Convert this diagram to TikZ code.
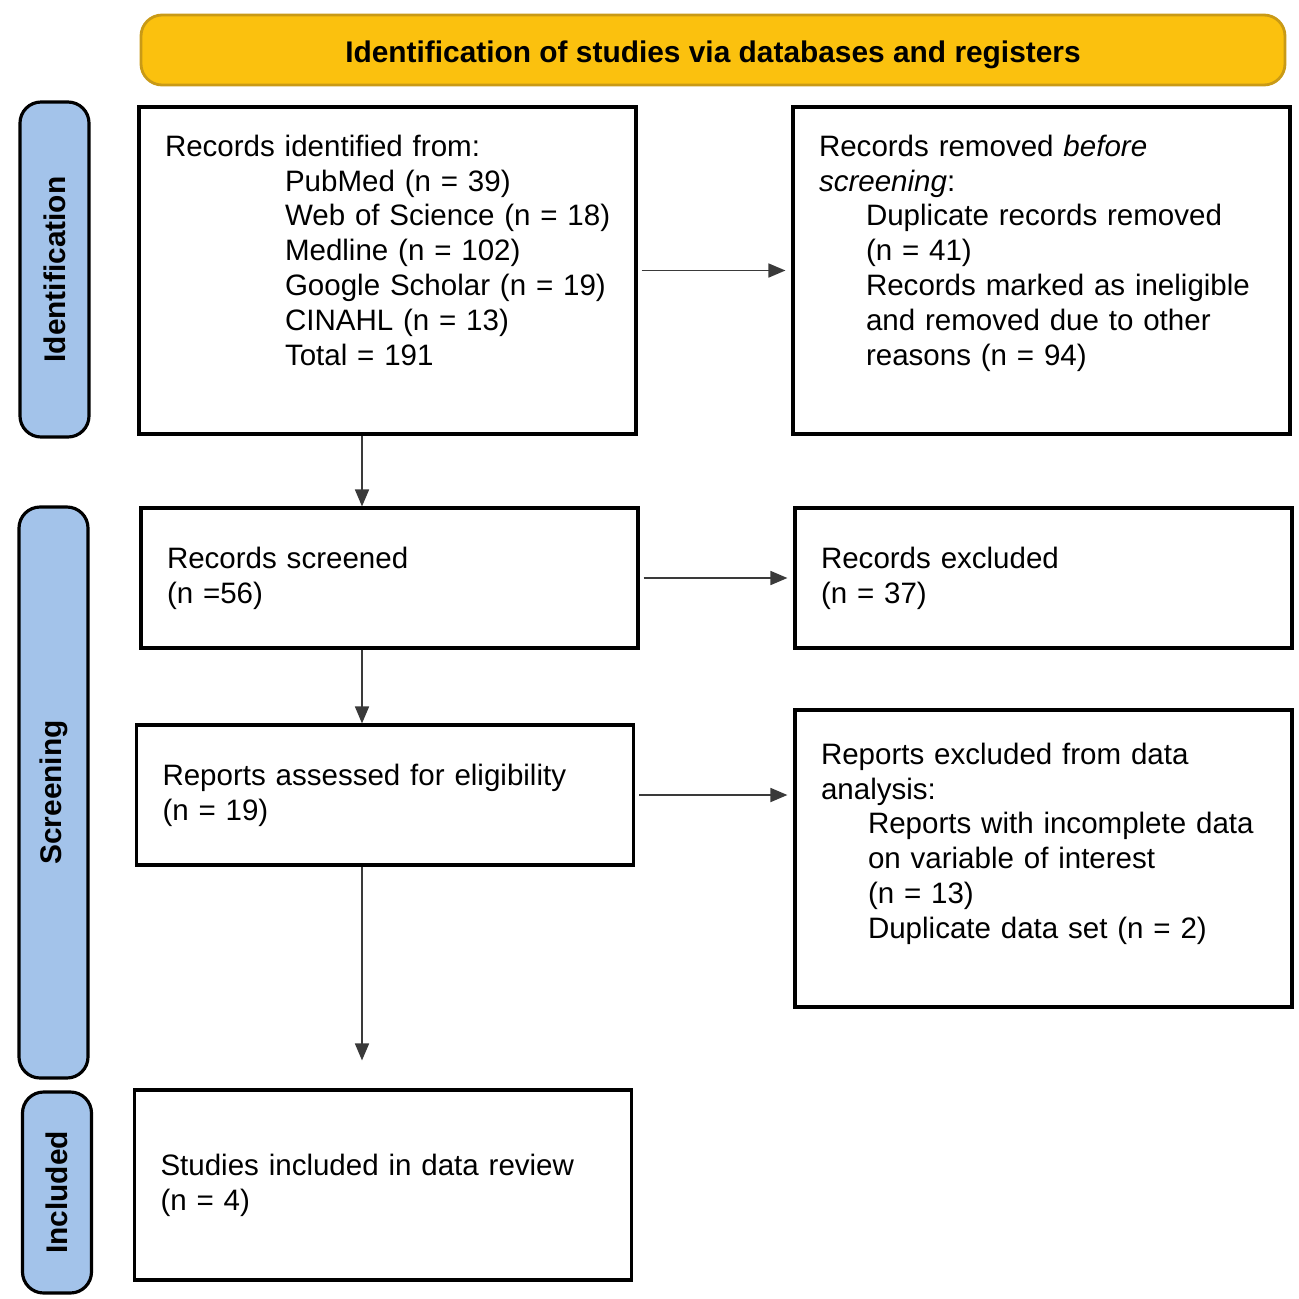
\documentclass[tikz,border=0pt]{standalone}
\usepackage{fontspec}
\setmainfont{Liberation Sans}
\usepackage{xcolor}
\usetikzlibrary{arrows.meta, positioning, calc}
\definecolor{HeadGold}{HTML}{FBC10E}
\definecolor{HeadEdge}{HTML}{C99A16}
\definecolor{PhaseBlue}{HTML}{A3C3EA}
\definecolor{ArrowGrey}{HTML}{3A3A3A}
\tikzset{
  box/.style={rectangle, draw=black, line width=0.9pt, fill=white,
              text width=4.45cm, align=left, inner xsep=0.26cm, inner ysep=0.28cm,
              minimum width=4.97cm, font=\fontsize{8.4}{9.9}\selectfont},
  phase/.style={rectangle, rounded corners=6pt, draw=black, line width=0.9pt,
                fill=PhaseBlue, rotate=90, minimum height=0.69cm,
                font=\fontsize{8.5}{9.9}\selectfont\bfseries},
  arr/.style={-{Triangle[length=0.17cm, width=0.14cm]}, line width=0.5pt, draw=ArrowGrey}
}
\begin{document}
\begin{tikzpicture}
    \useasboundingbox (0,0) rectangle (12.99,-12.99);

    % Header
    \node[rectangle, rounded corners=6pt, draw=HeadEdge, line width=0.8pt, fill=HeadGold,
          minimum width=11.44cm, minimum height=0.70cm, text height=1.6ex, text depth=0.25ex,
          font=\fontsize{8.5}{9.9}\selectfont\bfseries]
        (head) at (7.13,-0.50) {Identification of studies via databases and registers};

    % Phase bars
    \node[phase, minimum width=3.35cm] (phId) at (0.545,-2.695) {Identification};
    \node[phase, minimum width=5.71cm] (phScr) at (0.535,-7.925) {Screening};
    \node[phase, minimum width=2.01cm] (phInc) at (0.57,-11.925) {Included};

    % Identification
    \node[box, minimum height=3.27cm] (ident) at (3.875,-2.705)
        {\parbox[c][2.71cm][t]{4.45cm}{\raggedright Records identified from:\par
         {\leftskip=1.2cm\relax PubMed (n = 39)\\\mbox{Web of Science (n = 18)}\\Medline (n = 102)\\
          Google Scholar (n = 19)\\CINAHL (n = 13)\\Total = 191\par}}};
    \node[box, minimum height=3.27cm] (removed) at (10.415,-2.705)
        {\parbox[c][2.71cm][t]{4.45cm}{\raggedright Records removed \emph{before}\\\emph{screening}:\par
         {\leftskip=0.47cm\relax Duplicate records removed\\(n = 41)\\Records marked as ineligible\\
          and removed due to other\\reasons (n = 94)\par}}};

    % Screening
    \node[box, minimum height=1.40cm] (screened) at (3.895,-5.78) {Records screened\\(n =56)};
    \node[box, minimum height=1.40cm] (excluded) at (10.435,-5.78) {Records excluded\\(n = 37)};
    \node[box, minimum height=1.40cm] (assessed) at (3.85,-7.95) {Reports assessed for eligibility\\(n = 19)};
    \node[box, minimum height=2.97cm] (rptexcl) at (10.435,-8.585)
        {\parbox[c][2.31cm][t]{4.45cm}{\raggedright Reports excluded from data\\analysis:\par
         {\leftskip=0.47cm\relax Reports with incomplete data\\on variable of interest\\(n = 13)\\
          Duplicate data set (n = 2)\par}}};

    % Included
    \node[box, minimum height=1.90cm] (incl) at (3.83,-11.85) {Studies included in data review\\(n = 4)};

    % Arrows
    \coordinate (spine) at (3.62,0);
    \draw[arr] (ident.south -| spine) -- (screened.north -| spine);
    \draw[arr] (screened.south -| spine) -- (assessed.north -| spine);
    \draw[arr, shorten >=0.28cm] (assessed.south -| spine) -- (incl.north -| spine);
    \draw[arr, shorten <=0.04cm, shorten >=0.06cm] (ident.east) -- (removed.west);
    \draw[arr, shorten <=0.04cm, shorten >=0.06cm] (screened.east) -- (excluded.west);
    \draw[arr, shorten <=0.04cm, shorten >=0.06cm] (assessed.east) -- (assessed.east -| rptexcl.west);
\end{tikzpicture}
\end{document}
